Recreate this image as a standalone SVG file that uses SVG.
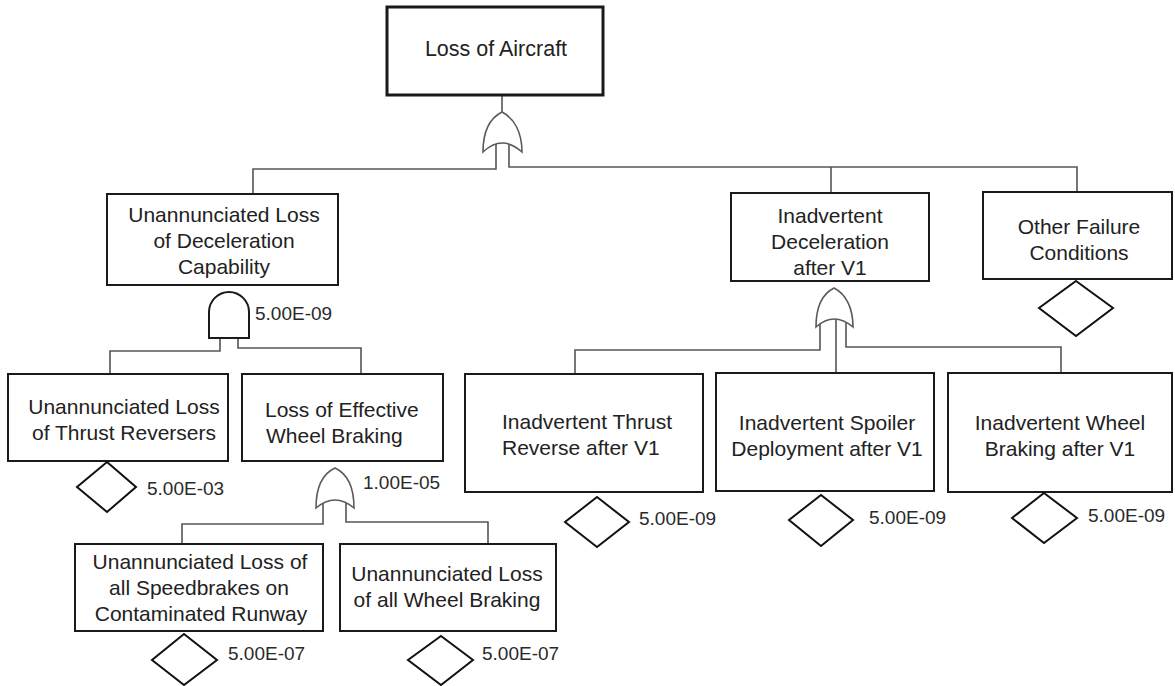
<svg xmlns="http://www.w3.org/2000/svg" width="1175" height="686" viewBox="0 0 1175 686">
  <style>
    .box { fill: #ffffff; stroke: #1a1a1a; stroke-width: 2; }
    .top { stroke-width: 3; }
    .lbl { font-family: "Liberation Sans", Arial, sans-serif; font-size: 21px; fill: #222222; }
    .big { font-size: 21.5px; }
    .c { text-anchor: middle; }
    .num { font-family: "Liberation Sans", Arial, sans-serif; font-size: 19px; fill: #2a2a2a; }
    .gate { fill: #ffffff; stroke: #5a5a5a; stroke-width: 1.6; }
    .and { fill: #ffffff; stroke: #1a1a1a; stroke-width: 2; }
    .dia { fill: #ffffff; stroke: #111111; stroke-width: 2; }
    .wire { fill: none; stroke: #555555; stroke-width: 1.6; }
  </style>

  <!-- connectors -->
  <g id="connectors">
    <path class="wire" d="M502,95 V114"/>
    <path class="wire" d="M496,144 V169 H253 V194"/>
    <path class="wire" d="M509,144 V167 H1077 V192"/>
    <path class="wire" d="M831,167 V193"/>
    <path class="wire" d="M220,336 V351 H110 V374"/>
    <path class="wire" d="M238,336 V348 H361 V374"/>
    <path class="wire" d="M323,500 V524 H182 V544"/>
    <path class="wire" d="M346,500 V522 H488 V544"/>
    <path class="wire" d="M820,319 V350 H575 V374"/>
    <path class="wire" d="M836,318 V373"/>
    <path class="wire" d="M846,319 V347 H1061 V373"/>
  </g>

  <!-- top event -->
  <g id="loss-of-aircraft">
    <rect class="box top" x="387" y="7" width="216" height="88"/>
    <text class="lbl big c" x="496" y="56">Loss of Aircraft</text>
  </g>
  <g id="gate-top">
    <path class="gate" d="M483,152 C483,132 490,118 502,112 C514,118 522,132 522,152 Q502,134 483,152 Z"/>
  </g>

  <!-- second level -->
  <g id="unannunciated-loss-deceleration">
    <rect class="box" x="107" y="194" width="231" height="91"/>
    <text class="lbl c" x="224" y="222">Unannunciated Loss</text>
    <text class="lbl c" x="224" y="248">of Deceleration</text>
    <text class="lbl c" x="224" y="274">Capability</text>
  </g>
  <g id="gate-and">
    <path class="and" d="M209,338 V312 A20,20 0 0 1 249,312 V338 Z"/>
    <text class="num" x="255" y="320">5.00E-09</text>
  </g>

  <g id="inadvertent-deceleration">
    <rect class="box" x="731" y="193" width="198" height="88"/>
    <text class="lbl c" x="830" y="223">Inadvertent</text>
    <text class="lbl c" x="830" y="249">Deceleration</text>
    <text class="lbl c" x="830" y="275">after V1</text>
  </g>
  <g id="gate-decel">
    <path class="gate" d="M816,327 C816,308 822,294 834,288 C846,294 853,308 853,327 Q834,311 816,327 Z"/>
  </g>

  <g id="other-failure-conditions">
    <rect class="box" x="983" y="192" width="189" height="87"/>
    <text class="lbl c" x="1079" y="234">Other Failure</text>
    <text class="lbl c" x="1079" y="260">Conditions</text>
    <path class="dia" d="M1076,281 L1113,308 L1076,336 L1039,308 Z"/>
  </g>

  <!-- third level -->
  <g id="loss-thrust-reversers">
    <rect class="box" x="8" y="374" width="220" height="87"/>
    <text class="lbl c" x="124" y="414">Unannunciated Loss</text>
    <text class="lbl c" x="124" y="440">of Thrust Reversers</text>
    <path class="dia" d="M107,462 L136,487 L107,512 L77,487 Z"/>
    <text class="num" x="147" y="495">5.00E-03</text>
  </g>

  <g id="loss-effective-wheel-braking">
    <rect class="box" x="242" y="374" width="201" height="87"/>
    <text class="lbl" x="265" y="417">Loss of Effective</text>
    <text class="lbl" x="266" y="443">Wheel Braking</text>
  </g>
  <g id="gate-braking">
    <path class="gate" d="M316,508 C316,489 322,474 335,468 C348,474 354,489 354,508 Q335,492 316,508 Z"/>
    <text class="num" x="363" y="489">1.00E-05</text>
  </g>

  <g id="inadvertent-thrust-reverse">
    <rect class="box" x="465" y="374" width="238" height="118"/>
    <text class="lbl" x="502" y="429">Inadvertent Thrust</text>
    <text class="lbl" x="502" y="455">Reverse after V1</text>
    <path class="dia" d="M597,497 L629,522 L597,547 L565,522 Z"/>
    <text class="num" x="639" y="525">5.00E-09</text>
  </g>

  <g id="inadvertent-spoiler-deployment">
    <rect class="box" x="716" y="373" width="218" height="118"/>
    <text class="lbl c" x="827" y="430">Inadvertent Spoiler</text>
    <text class="lbl c" x="827" y="456">Deployment after V1</text>
    <path class="dia" d="M821,495 L853,520 L821,546 L789,520 Z"/>
    <text class="num" x="869" y="524">5.00E-09</text>
  </g>

  <g id="inadvertent-wheel-braking">
    <rect class="box" x="948" y="373" width="224" height="119"/>
    <text class="lbl c" x="1060" y="430">Inadvertent Wheel</text>
    <text class="lbl c" x="1060" y="456">Braking after V1</text>
    <path class="dia" d="M1044,493 L1077,518 L1044,543 L1012,518 Z"/>
    <text class="num" x="1088" y="522">5.00E-09</text>
  </g>

  <!-- bottom level -->
  <g id="loss-speedbrakes">
    <rect class="box" x="75" y="544" width="248" height="87"/>
    <text class="lbl c" x="200" y="569">Unannunciated Loss of</text>
    <text class="lbl c" x="199" y="595">all Speedbrakes on</text>
    <text class="lbl c" x="201" y="621">Contaminated Runway</text>
    <path class="dia" d="M184,634 L217,660 L184,685 L152,660 Z"/>
    <text class="num" x="228" y="660">5.00E-07</text>
  </g>

  <g id="loss-all-wheel-braking">
    <rect class="box" x="340" y="544" width="216" height="87"/>
    <text class="lbl c" x="447" y="581">Unannunciated Loss</text>
    <text class="lbl c" x="447" y="607">of all Wheel Braking</text>
    <path class="dia" d="M441,636 L473,660 L441,685 L408,660 Z"/>
    <text class="num" x="482" y="660">5.00E-07</text>
  </g>
</svg>
